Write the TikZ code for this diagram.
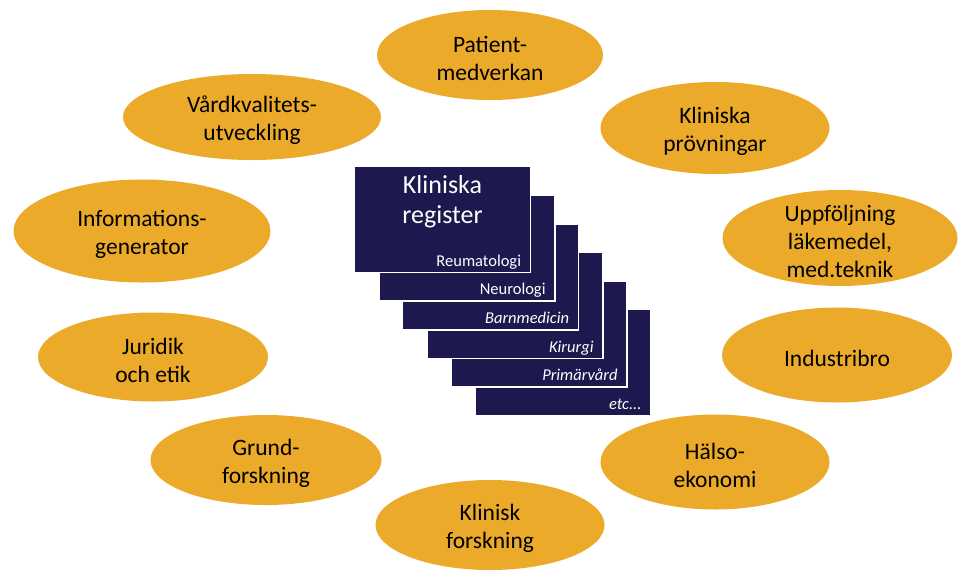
\documentclass[tikz,border=0pt]{standalone}
\usepackage{fontspec}
\setmainfont{Carlito}
\usepackage{tikz}
\usetikzlibrary{shapes.geometric, positioning}
\definecolor{regorange}{RGB}{236,170,42}
\definecolor{regnavy}{RGB}{29,24,77}

\begin{document}
\begin{tikzpicture}[x=1pt, y=-1pt,
    area/.style={ellipse, fill=regorange, inner sep=0pt, minimum width=230pt, minimum height=92pt},
    areatext/.style={align=center, text=black, yshift=-3pt, font=\fontsize{23.5}{28}\selectfont},
    card/.style={rectangle, fill=regnavy, draw=white, line width=1.5pt,
                 minimum width=176pt, minimum height=106pt, inner sep=0pt},
    cardtag/.style={anchor=base east, inner sep=0pt, text=white, font=\fontsize{16.5}{18}\selectfont},
    cardtagit/.style={cardtag, font=\fontsize{16.5}{18}\selectfont\itshape}]
  \useasboundingbox (0,0) rectangle (959,571);

  % Surrounding areas
  \node[area, minimum width=226pt, minimum height=90pt,
        label={[areatext]center:Patient-\\medverkan}] (patient) at (490,55) {};
  \node[area, minimum width=258pt, minimum height=86pt,
        label={[areatext]center:Vårdkvalitets-\\utveckling}] (vard) at (252,117) {};
  \node[area, minimum width=229pt, minimum height=92pt,
        label={[areatext]center:Kliniska\\prövningar}] (prov) at (715,128) {};
  \node[area, minimum width=257pt, minimum height=103pt,
        label={[areatext]center:Informations-\\generator}] (info) at (142,231) {};
  \node[area, minimum width=235pt, minimum height=96pt,
        label={[areatext]center:Uppföljning\\läkemedel,\\med.teknik}] (uppf) at (840,238) {};
  \node[area, minimum width=230pt, minimum height=89pt,
        label={[areatext]center:Juridik\\och etik}] (jur) at (153,357) {};
  \node[area, minimum width=230pt, minimum height=95pt,
        label={[areatext]center:Industribro}] (indu) at (837,355) {};
  \node[area, minimum width=231pt, minimum height=90pt,
        label={[areatext]center:Grund-\\forskning}] (grund) at (266,460) {};
  \node[area, minimum width=229pt, minimum height=95pt,
        label={[areatext]center:Hälso-\\ekonomi}] (halso) at (715,462) {};
  \node[area, minimum width=229pt, minimum height=90pt,
        label={[areatext]center:Klinisk\\forskning}] (klin) at (490,525) {};

  % Register cards, back to front
  \node[card] (etc) at (563,362.5) {};
  \node[cardtagit] (etctag) at ([xshift=-10pt, yshift=7pt]etc.south east) {etc...};
  \node[card] (prim) at (539,334) {};
  \node[cardtagit] (primtag) at ([xshift=-10pt, yshift=7pt]prim.south east) {Primärvård};
  \node[card] (kir) at (515,305.5) {};
  \node[cardtagit] (kirtag) at ([xshift=-10pt, yshift=7pt]kir.south east) {Kirurgi};
  \node[card] (barn) at (490.5,277) {};
  \node[cardtagit] (barntag) at ([xshift=-10pt, yshift=7pt]barn.south east) {Barnmedicin};
  \node[card] (neuro) at (467,248) {};
  \node[cardtag] (neurotag) at ([xshift=-10pt, yshift=7pt]neuro.south east) {Neurologi};
  \node[card] (reuma) at (442.5,219.5) {};
  \node[cardtag] (reumatag) at ([xshift=-10pt, yshift=7pt]reuma.south east) {Reumatologi};

  % Title on the front card
  \node[anchor=north, inner sep=0pt, align=center, text=white,
        font=\fontsize{26}{30}\selectfont] (title) at ([yshift=-9.5pt]reuma.north) {Kliniska\\register};
\end{tikzpicture}
\end{document}
